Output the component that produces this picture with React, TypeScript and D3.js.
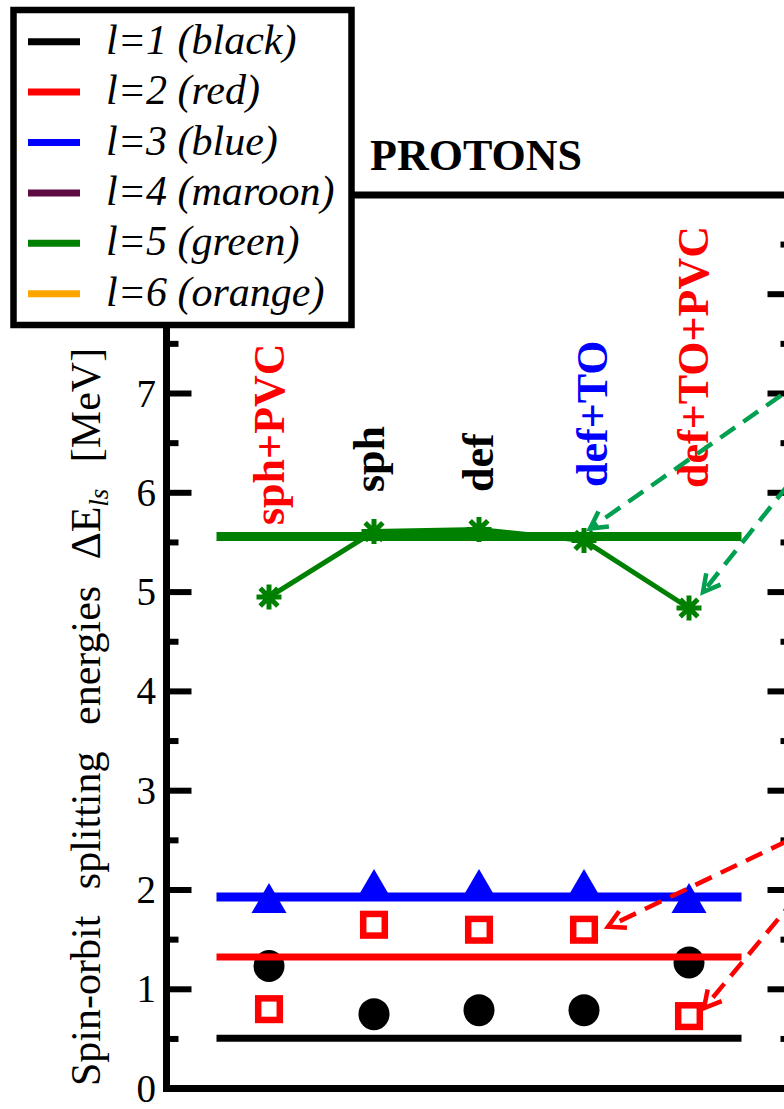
import React from 'react';
import * as d3 from 'd3';

// Calculation variants along the x axis
const categories = ['sph+PVC', 'sph', 'def', 'def+TO', 'def+TO+PVC'];
const categoryColors = ['#ff0000', '#000000', '#000000', '#0000ff', '#ff0000'];

// Spin-orbit splittings (MeV) per orbital l
const l1Values = [1.235, 0.75, 0.79, 0.79, 1.27];
const l2Values = [0.8, 1.65, 1.6, 1.6, 0.73];
const l3Values = [1.92, 2.06, 2.06, 2.06, 1.92];
const l5Values = [4.95, 5.61, 5.63, 5.52, 4.84];

// Experimental reference levels
const l1Ref = 0.506;
const l2Ref = 1.325;
const l3Ref = 1.93;
const l5Ref = 5.56;

const legendLabels = ['l=1 (black)', 'l=2 (red)', 'l=3 (blue)', 'l=4 (maroon)', 'l=5 (green)', 'l=6 (orange)'];
const legendColors = ['#000000', '#ff0000', '#0000ff', '#5e0a42', '#008000', '#ffa500'];

const yTickValues = [0, 1, 2, 3, 4, 5, 6, 7, 8];
const yTickLabels = ['0', '1', '2', '3', '4', '5', '6', '7'];

// Rotated category label placement: baseline offset from the column and bottom edge
const labelLayout = [
  { dx: 15, bottom: 525 },
  { dx: 10, bottom: 492 },
  { dx: 14, bottom: 492 },
  { dx: 23, bottom: 487 },
  { dx: 19, bottom: 488 },
];

// Dashed pointers coming in from the neighbouring panel
const pointers = [
  { values: l5Values, index: 3, color: '#00a050', gap: [6, -12], from: [260, -181] },
  { values: l5Values, index: 4, color: '#00a050', gap: [14, -16], from: [120, -151] },
  { values: l2Values, index: 3, color: '#ff0000', gap: [24, -3], from: [230, -110] },
  { values: l2Values, index: 4, color: '#ff0000', gap: [15, -8], from: [110, -132] },
];

const FONT = '"Liberation Serif", "Times New Roman", serif';

export default function App() {
  const W = 784;
  const H = 1109;
  const y = d3.scaleLinear().domain([0, 9]).range([1088.6, 194.9]);
  const x = d3.scalePoint<string>().domain(categories).range([269, 689]);
  const step = x.step();
  const frameLeft = 166.5;
  const frameRight = 792.5;
  const refX0 = (x(categories[0]) as number) - step / 2;
  const refX1 = (x(categories[categories.length - 1]) as number) + step / 2;

  const minorTicks = d3.range(0.5, 9, 1);
  const greenLine = d3
    .line<number>()
    .x((_, i) => x(categories[i]) as number)
    .y((d) => y(d))(l5Values) as string;

  const star = (cx: number, cy: number, r: number) => {
    const d = r * Math.SQRT1_2;
    return `M${cx - r},${cy}H${cx + r}M${cx},${cy - r}V${cy + r}M${cx - d},${cy - d}L${cx + d},${cy + d}M${cx - d},${cy + d}L${cx + d},${cy - d}`;
  };
  const triangle = (cx: number, cy: number, w: number, h: number) =>
    `M${cx},${cy - h / 2}L${cx + w / 2},${cy + h / 2}L${cx - w / 2},${cy + h / 2}Z`;

  const refs = [
    { v: l1Ref, color: '#000000', w: 7 },
    { v: l2Ref, color: '#ff0000', w: 7 },
    { v: l3Ref, color: '#0000ff', w: 9 },
    { v: l5Ref, color: '#008000', w: 9 },
  ];

  return (
    <div style={{ position: 'absolute', left: 0, top: 0 }}>
      <svg width={W} height={H} style={{ display: 'block', background: '#fff' }} fontFamily={FONT}>
        <rect x={0} y={0} width={W} height={H} fill="#fff" />

        {/* frame */}
        <g stroke="#000" strokeWidth={7} fill="none">
          <line x1={frameLeft} x2={frameLeft} y1={y(9) - 3.5} y2={y(0) + 3.5} />
          <line x1={frameRight} x2={frameRight} y1={y(9) - 3.5} y2={y(0) + 3.5} />
          <line x1={frameLeft - 3.5} x2={frameRight + 3.5} y1={y(9)} y2={y(9)} />
          <line x1={frameLeft - 3.5} x2={frameRight + 3.5} y1={y(0)} y2={y(0)} />
        </g>
        {/* inward ticks */}
        <g stroke="#000" strokeWidth={6}>
          {yTickValues.map((t) => (
            <g key={'M' + t}>
              <line x1={frameLeft} x2={frameLeft + 25} y1={y(t)} y2={y(t)} />
              <line x1={frameRight} x2={frameRight - 25} y1={y(t)} y2={y(t)} />
            </g>
          ))}
          {minorTicks.map((t) => (
            <g key={'m' + t}>
              <line x1={frameLeft} x2={frameLeft + 12} y1={y(t)} y2={y(t)} />
              <line x1={frameRight} x2={frameRight - 12} y1={y(t)} y2={y(t)} />
            </g>
          ))}
        </g>
        <g fontSize={39} textAnchor="end">
          {yTickLabels.map((t) => (
            <text key={t} x={156} y={y(+t) + 13}>
              {t}
            </text>
          ))}
        </g>

        {/* y axis title */}
        <text
          transform={`translate(100,1086) rotate(-90)`}
          fontSize={42}
          style={{ wordSpacing: '16px' }}
        >
          Spin-orbit splitting energies ΔE
          <tspan fontSize={27} fontStyle="italic" dy={8}>
            ls
          </tspan>
          <tspan dy={-8}> [MeV]</tspan>
        </text>

        {/* category labels */}
        <g fontSize={44} fontWeight="bold">
          {categories.map((c, i) => (
            <text
              key={c}
              transform={`translate(${(x(c) as number) + labelLayout[i].dx},${labelLayout[i].bottom}) rotate(-90)`}
              fill={categoryColors[i]}
            >
              {c}
            </text>
          ))}
        </g>

        {/* l=3 triangles */}
        {l3Values.map((v, i) => (
          <path key={'t' + i} d={triangle(x(categories[i]) as number, y(v), 35, 30)} fill="#0000ff" />
        ))}
        {/* l=1 circles */}
        {l1Values.map((v, i) => (
          <ellipse key={'c' + i} cx={x(categories[i]) as number} cy={y(v)} rx={15.5} ry={16} fill="#000" />
        ))}
        {/* l=2 open squares */}
        {l2Values.map((v, i) => (
          <rect
            key={'s' + i}
            x={(x(categories[i]) as number) - 10.8}
            y={y(v) - 10.8}
            width={21.6}
            height={21.6}
            fill="none"
            stroke="#ff0000"
            strokeWidth={6.5}
          />
        ))}
        {/* l=5 connected stars */}
        <path d={greenLine} fill="none" stroke="#008000" strokeWidth={5} />
        {l5Values.map((v, i) => (
          <path key={'a' + i} d={star(x(categories[i]) as number, y(v), 12.5)} stroke="#008000" strokeWidth={5} fill="none" />
        ))}

        {/* reference levels */}
        {refs.map((r) => (
          <line key={r.color} x1={refX0} x2={refX1} y1={y(r.v)} y2={y(r.v)} stroke={r.color} strokeWidth={r.w} />
        ))}

        {/* dashed pointers */}
        {pointers.map((p, k) => {
          const tx = (x(categories[p.index]) as number) + p.gap[0];
          const ty = y(p.values[p.index]) + p.gap[1];
          const sx = tx + p.from[0];
          const sy = ty + p.from[1];
          const ang = Math.atan2(sy - ty, sx - tx);
          const len = 19;
          const spread = 0.5;
          const h1 = [tx + len * Math.cos(ang + spread), ty + len * Math.sin(ang + spread)];
          const h2 = [tx + len * Math.cos(ang - spread), ty + len * Math.sin(ang - spread)];
          return (
            <g key={k} stroke={p.color} strokeWidth={4.5} fill="none">
              <line x1={sx} y1={sy} x2={tx} y2={ty} strokeDasharray="18 10" />
              <path d={`M${h1[0]},${h1[1]}L${tx},${ty}L${h2[0]},${h2[1]}`} />
            </g>
          );
        })}

        {/* title */}
        <text x={370} y={170} fontSize={44} fontWeight="bold">
          PROTONS
        </text>

        {/* legend */}
        <g>
          <rect x={13.5} y={10} width={338} height={315} fill="#fff" stroke="#000" strokeWidth={6.5} />
          {legendLabels.map((lab, i) => {
            const ly = 41.7 + i * 50.4;
            return (
              <g key={lab}>
                <line x1={28} x2={80} y1={ly} y2={ly} stroke={legendColors[i]} strokeWidth={7} />
                <text x={106} y={ly + 12} fontSize={42} fontStyle="italic">
                  {lab}
                </text>
              </g>
            );
          })}
        </g>
      </svg>
    </div>
  );
}
